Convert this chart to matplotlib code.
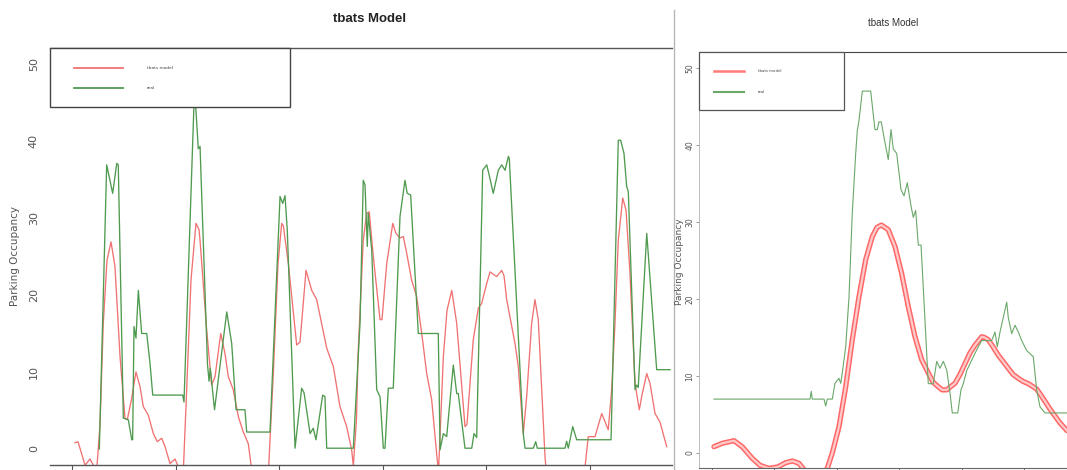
import matplotlib
matplotlib.use("Agg")
import matplotlib.pyplot as plt
from matplotlib.lines import Line2D
from matplotlib.patches import Rectangle

W, H = 1067, 470

# ---------------- data: left panel ----------------
left_real_x = [26.4, 33.5, 39.3, 43.2, 44.7, 49.6, 54.4, 57.7, 58.6, 59.9, 61.8, 64.1, 67.3, 72.2,
               75.4, 78.0, 107.0, 108.2, 118.4, 122.0, 123.7, 130.9, 132.4, 133.6, 137.7, 149.5,
               154.3, 158.5, 167.1, 168.8, 191.3, 201.0, 203.6, 205.8, 208.0, 215.5, 221.9, 224.2,
               230.0, 233.1, 235.7, 242.2, 244.4, 246.1, 271.8, 278.3, 281.4, 283.1, 285.3, 286.2,
               289.6, 294.4, 297.6, 300.8, 302.4, 305.6, 310.4, 316.9, 321.7, 323.9, 327.2, 334.6,
               353.9, 355.6, 358.8, 362.0, 368.4, 371.7, 373.2, 379.7, 386.2, 388.4, 391.0, 396.8,
               400.7, 403.2, 407.0, 411.9, 415.2, 418.4, 420.0, 421.6, 422.5, 436.0, 437.7, 445.7,
               448.0, 449.6, 476.3, 477.9, 479.5, 483.8, 487.6, 520.8, 527.8, 530.1, 533.3, 535.9,
               537.5, 544.0, 545.6, 547.1, 555.3, 564.9, 577.8]
left_real_y = [0.0, 36.9, 33.2, 37.1, 36.9, 4.0, 3.8, 1.2, 1.2, 15.9, 14.4, 20.6, 15.0, 15.0,
               11.1, 7.0, 7.0, 6.1, 47.0, 39.0, 39.3, 11.0, 8.8, 10.5, 5.1, 17.8,
               13.7, 5.1, 5.1, 2.2, 2.2, 32.8, 31.9, 32.9, 28.4, 0.1, 7.9, 7.3,
               2.0, 2.7, 1.2, 7.0, 6.8, 0.1, 0.1, 16.4, 34.9, 34.3, 26.3, 30.6,
               25.8, 7.7, 6.8, 0.1, 0.1, 7.9, 7.9, 30.2, 34.9, 33.2, 33.0, 15.0,
               15.0, -0.1, 2.0, 1.6, 10.9, 7.2, 7.2, 0.1, 0.1, 2.0, 1.5, 36.2,
               36.9, 35.5, 33.2, 36.2, 36.9, 36.2, 37.1, 38.0, 37.7, 2.0, 0.1, 0.1,
               0.95, 0.1, 0.1, 1.0, 0.1, 2.9, 1.2, 1.2, 40.1, 40.1, 38.4, 34.1,
               33.4, 7.7, 8.3, 8.0, 28.0, 10.3, 10.3]

left_model_x = [2.9, 5.8, 12.6, 17.4, 20.6, 23.2, 27.1, 30.2, 33.8, 37.7, 41.5, 46.4, 51.2, 53.4,
                57.7, 61.8, 65.7, 68.9, 73.7, 78.6, 82.4, 86.7, 89.9, 94.7, 99.5, 103.4, 107.2,
                110.8, 115.0, 119.8, 122.7, 123.7, 130.1, 134.9, 138.2, 143.7, 147.8, 151.0,
                155.8, 160.7, 165.5, 170.3, 173.9, 189.4, 194.5, 199.0, 202.6, 204.2, 209.0,
                217.1, 220.3, 226.1, 231.6, 236.4, 241.2, 246.1, 252.5, 258.9, 265.4, 270.2,
                271.8, 274.9, 276.3, 281.4, 284.7, 287.2, 291.1, 297.6, 299.5, 304.1, 309.9,
                313.0, 316.9, 320.1, 323.4, 328.2, 333.0, 337.9, 342.7, 347.5, 352.3, 354.1,
                358.8, 362.3, 366.9, 371.7, 379.7, 381.6, 387.7, 392.6, 395.8, 400.7, 403.9,
                407.0, 410.3, 415.2, 417.4, 420.0, 428.0, 431.2, 436.0, 439.3, 444.1, 447.3,
                450.5, 453.8, 457.0, 458.9, 493.7, 495.7, 498.8, 505.3, 511.8, 518.1, 521.4,
                524.6, 527.8, 532.1, 535.3, 539.1, 544.0, 548.1, 550.7, 555.3, 558.5, 563.3,
                568.1, 574.6]
left_model_y = [0.8, 0.95, -2.1, -1.3, -2.1, -4.0, 3.3, 16.3, 24.5, 26.9, 23.7, 12.0, 4.0, 3.8,
                6.6, 10.0, 8.1, 5.5, 4.4, 2.0, 0.95, 1.4, 0.3, -1.9, -1.3, -2.5, -4.0,
                7.7, 22.0, 29.3, 28.5, 27.1, 15.5, 8.3, 9.4, 15.0, 12.4, 9.4,
                7.7, 4.2, 2.2, 0.7, -3.0, -4.0, 9.8, 24.0, 29.3, 29.0, 24.1,
                13.5, 13.9, 23.2, 20.6, 19.4, 16.3, 13.1, 10.7, 5.5, 2.9, -0.1,
                -2.2, 4.0, 12.0, 27.1, 30.6, 30.8, 25.0, 16.8, 16.8, 24.1, 29.3,
                28.0, 27.4, 27.6, 25.4, 21.9, 19.8, 15.0, 9.8, 6.4, -0.6, -3.0,
                12.0, 18.0, 20.6, 16.3, 2.9, 3.2, 14.2, 18.3, 18.9, 21.5, 23.0,
                22.7, 22.4, 23.2, 22.5, 19.4, 13.7, 10.7, 2.0, 6.8, 16.3, 19.4,
                16.8, 7.7, -1.0, -4.0, -4.0, -2.3, 1.6, 1.6, 4.6, 2.5, 7.7,
                16.3, 27.1, 32.6, 31.0, 22.8, 8.5, 5.1, 7.0, 9.8, 8.5, 4.6,
                3.5, 0.3]

# ---------------- data: right panel ----------------
right_real_x = [3.2, 157.1, 159.1, 160.7, 179.5, 182.2, 184.8, 192.8, 197.1, 203.5, 206.3, 208.8,
                214.3, 219.6, 224.8, 230.3, 232.9, 235.6, 240.9, 254.3, 261.2, 264.9, 267.6,
                271.3, 275.6, 282.5, 286.9, 290.5, 296.0, 302.9, 307.7, 313.0, 318.9, 322.6,
                326.4, 330.6, 335.0, 341.3, 346.6, 354.6, 360.1, 365.4, 370.7, 376.1, 381.4,
                385.1, 393.8, 399.0, 402.7, 408.2, 413.5, 418.8, 426.8, 432.2, 448.2, 453.5,
                457.2, 461.5, 466.8, 472.3, 474.8, 480.3, 485.6, 490.9, 496.3, 504.3, 514.9,
                520.3, 525.6, 533.7, 568.9]
right_real_y = [7.0, 7.0, 8.0, 7.0, 7.0, 6.1, 7.0, 7.0, 9.05, 9.7, 9.05, 10.4,
                13.8, 20.3, 31.1, 38.9, 41.9, 43.2, 47.0, 47.0, 42.0, 42.0, 43.0,
                43.0, 41.0, 38.1, 42.0, 39.5, 38.9, 34.2, 33.4, 35.1, 32.1, 30.6,
                31.5, 27.0, 27.0, 17.3, 9.0, 9.0, 11.9, 11.0, 11.9, 10.8, 7.8,
                5.2, 5.2, 8.2, 9.0, 10.7, 11.6, 12.5, 13.8, 14.6, 14.6, 15.7,
                13.8, 15.7, 17.6, 19.6, 17.6, 15.5, 16.6, 15.7, 14.6, 13.3, 12.5,
                8.2, 6.0, 5.2, 5.2]

right_model_x = [3.2, 16.5, 35.3, 48.6, 64.6, 76.9, 91.3, 105.8, 118.1, 128.7, 139.4, 145.8,
                 165.1, 184.8, 192.8, 203.5, 214.3, 224.8, 235.6, 246.3, 256.9, 264.4, 271.6,
                 282.5, 293.3, 304.0, 314.6, 325.3, 336.1, 346.6, 354.2, 362.7, 368.6, 376.1,
                 382.2, 389.4, 397.4, 405.4, 413.5, 421.5, 432.2, 436.7, 442.8, 450.3, 458.8,
                 466.3, 474.8, 482.4, 490.9, 498.4, 506.9, 512.8, 520.3, 527.2, 533.7, 541.7,
                 549.7, 557.7, 568.9]
right_model_y = [0.82, 1.26, 1.6, 0.8, -0.7, -1.6, -2.0, -1.8, -1.26, -1.04, -1.34, -2.0,
                 -4.0, -2.0, 0.0, 3.4, 8.6, 14.7, 20.3, 25.1, 28.1, 29.3, 29.6,
                 29.0, 26.8, 23.3, 19.0, 15.1, 12.1, 10.4, 9.2, 8.6, 8.2, 8.2,
                 8.6, 9.05, 10.2, 11.6, 13.0, 14.0, 15.1, 15.0, 14.7, 13.8, 12.7,
                 11.9, 11.0, 10.2, 9.7, 9.3, 9.0, 8.7, 8.3, 7.5, 6.7, 5.7,
                 4.8, 3.9, 2.9]

yticks = [0, 10, 20, 30, 40, 50]
xticks = [0, 100, 200, 300, 400, 500]
title = "tbats Model"
ylabel = "Parking Occupancy"
legend_labels = ["tbats model", "real"]

LEFT_RED = "#f07272"
LEFT_GREEN = "#4f9a4f"
RIGHT_GREEN = "#6aa86a"


def fx(px):
    return px / W


def fy(py):
    return 1 - py / H


fig = plt.figure(figsize=(W / 100, H / 100), dpi=100)
fig.patch.set_facecolor("white")

arial = ["Liberation Sans", "DejaVu Sans"]

# ---------------- left panel ----------------
axL = fig.add_axes([fx(50), fy(465), fx(672) - fx(50), fy(48) - fy(465)])
axL.plot(left_model_x, left_model_y, color=LEFT_RED, lw=0.95)
axL.plot(left_real_x, left_real_y, color=LEFT_GREEN, lw=0.95)
axL.set_xlim(-21.26, 579.7)
axL.set_ylim(-2.08, 52.08)
for s in ["left", "right"]:
    axL.spines[s].set_visible(False)
for s in ["top", "bottom"]:
    axL.spines[s].set_color("#555555")
    axL.spines[s].set_linewidth(1.0)
axL.set_xticks(xticks)
axL.set_xticklabels([])
axL.tick_params(axis="x", direction="out", length=4, width=0.8, color="#555555")
axL.set_yticks(yticks)
axL.set_yticklabels([str(v) for v in yticks], rotation=90, va="center",
                    fontsize=8, color="#555555")
axL.tick_params(axis="y", length=0, pad=8)
axL.set_facecolor("white")

fig.text(fx(370), fy(19), title, ha="center", va="center", fontsize=9.5,
         fontweight="bold", family=arial, color="#222222")
fig.text(fx(15), fy(256), ylabel, ha="center", va="center", rotation=90,
         fontsize=7.5, color="#555555")

# left legend
fig.add_artist(Rectangle((fx(50), fy(107)), fx(290) - fx(50), fy(48) - fy(107),
                         transform=fig.transFigure, facecolor="white",
                         edgecolor="#444444", lw=1.0, zorder=5))
fig.add_artist(Line2D([fx(74), fx(123)], [fy(68), fy(68)], color=LEFT_RED, lw=1.3, zorder=6))
fig.add_artist(Line2D([fx(74), fx(123)], [fy(88), fy(88)], color=LEFT_GREEN, lw=1.3, zorder=6))
fig.text(fx(147), fy(68), legend_labels[0], fontsize=3.2, va="center", color="#444444", zorder=7)
fig.text(fx(147), fy(88), legend_labels[1], fontsize=3.2, va="center", color="#444444", zorder=7)

# separator
fig.add_artist(Line2D([fx(674), fx(674)], [0, fy(10)], color="#b8b8b8", lw=1.0))

# ---------------- right panel ----------------
axR = fig.add_axes([fx(699), fy(468), 1 - fx(699), fy(52) - fy(468)])
axR.plot(right_model_x, right_model_y, color="#ff3535", lw=3.8, alpha=0.75,
         solid_capstyle="round")
axR.plot(right_model_x, right_model_y, color="#ffcaca", lw=1.6)
axR.plot(right_real_x, right_real_y, color=RIGHT_GREEN, lw=0.8)
axR.set_xlim(-20.8, 568.9)
axR.set_ylim(-1.95, 52.08)
axR.spines["right"].set_visible(False)
axR.spines["top"].set_color("#444444")
axR.spines["bottom"].set_color("#666666")
axR.spines["left"].set_color("#bbbbbb")
axR.spines["left"].set_linewidth(0.7)
axR.set_xticks(xticks)
axR.set_xticklabels([])
axR.tick_params(axis="x", direction="out", length=3, width=0.7, color="#666666")
axR.set_yticks(yticks)
axR.set_yticklabels([str(v) for v in yticks], rotation=90, va="center",
                    fontsize=5.5, color="#555555")
axR.tick_params(axis="y", direction="out", length=2, width=0.6, color="#888888", pad=1.5)

fig.text(fx(893), fy(23), title, ha="center", va="center", fontsize=7,
         family=arial, color="#333333")
fig.text(fx(679), fy(262), ylabel, ha="center", va="center", rotation=90,
         fontsize=6.5, color="#555555")

# right legend
fig.add_artist(Rectangle((fx(699), fy(110)), fx(844) - fx(699), fy(52) - fy(110),
                         transform=fig.transFigure, facecolor="white",
                         edgecolor="#555555", lw=0.9, zorder=5))
fig.add_artist(Line2D([fx(714), fx(744)], [fy(71), fy(71)], color="#ff7a7a", lw=1.8, zorder=6))
fig.add_artist(Line2D([fx(714), fx(744)], [fy(92), fy(92)], color=RIGHT_GREEN, lw=1.5, zorder=6))
fig.text(fx(758), fy(71), legend_labels[0], fontsize=2.8, va="center", color="#444444", zorder=7)
fig.text(fx(758), fy(92), legend_labels[1], fontsize=2.8, va="center", color="#444444", zorder=7)

fig.savefig("out.png", dpi=100, facecolor="white")
